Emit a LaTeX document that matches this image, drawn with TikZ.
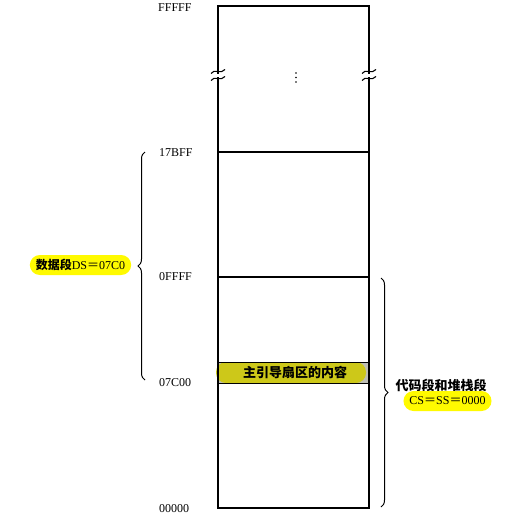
\documentclass[tikz,border=0pt]{standalone}
\usepackage{fontspec}
\setmainfont{Liberation Serif}
\newfontfamily\cjk{Noto Sans CJK SC}
\usetikzlibrary{decorations.pathreplacing}
\definecolor{hl}{RGB}{255,250,0}
\definecolor{bandy}{RGB}{205,200,25}
\definecolor{bandg}{RGB}{190,190,180}
\begin{document}
\begin{tikzpicture}[x=1pt,y=-1pt,
  addr/.style={font=\fontsize{12}{12}\selectfont, anchor=west, inner sep=0pt},
  mem/.style={line width=1.1pt},
  hlbox/.style={fill=hl, rounded corners=10pt, inner xsep=6pt, minimum height=20pt, inner ysep=0pt, font=\fontsize{12}{12}\selectfont},
  cjklab/.style={font=\fontsize{13}{13}\selectfont\cjk\bfseries, inner sep=0pt},
  brc/.style={decorate, decoration={brace, amplitude=7pt}, line width=1pt},
  wave/.style={line width=1.1pt}
]
\useasboundingbox (0,0) rectangle (527,522);
% memory column corners
\coordinate (tl) at (218,6);
\coordinate (tr) at (369,6);
\coordinate (bl) at (218,508);
\coordinate (br) at (369,508);
% band
\fill[bandg] (218,362) rectangle (369,383);
\fill[bandy, rounded corners=10pt] (216,362) rectangle (366,383);
\node[cjklab] (band) at (295,372.5) {主引导扇区的内容};
% outline
\draw[mem] (tl) -- (tr) -- (br) -- (bl) -- cycle;
\draw[mem] (218,152) -- (369,152);
\draw[mem] (218,277) -- (369,277);
\draw[line width=0.8pt] (218,362) -- (369,362);
\draw[line width=0.8pt] (218,383) -- (369,383);
% breaks
\foreach \xx in {218,369}{
  \fill[white] (\xx-2,73.5) rectangle (\xx+2,76.5);
  \draw[wave] (\xx-7,73.5) .. controls (\xx-4,68) and (\xx+3,75) .. (\xx+7,69.5);
  \draw[wave] (\xx-7,80.5) .. controls (\xx-4,75) and (\xx+3,82) .. (\xx+7,76.5);
}
\foreach \yy in {73,77.5,82}{\fill (296,\yy) circle (0.9pt);}
\coordinate (dots) at (296,77.5);
% addresses
\node[addr] (aF) at (158,8) {FFFFF};
\node[addr] (a17) at (159,153) {17BFF};
\node[addr] (a0F) at (159,277) {0FFFF};
\node[addr] (a07) at (159,383) {07C00};
\node[addr] (a00) at (159,509) {00000};
% left brace
\coordinate (lb1) at (145,380);
\coordinate (lb2) at (145,152);
\draw[brc] (lb1) -- (lb2);
\node[hlbox] (ds) at (80.5,265) {{\cjk\bfseries 数据段}DS{\cjk ＝}07C0};
% right brace
\coordinate (rb1) at (381,278);
\coordinate (rb2) at (381,507);
\draw[brc] (rb1) -- (rb2);
\node[cjklab] (code) at (441,385) {代码段和堆栈段};
\node[hlbox] (cs) at (447.5,401) {CS{\cjk ＝}SS{\cjk ＝}0000};
\end{tikzpicture}
\end{document}
